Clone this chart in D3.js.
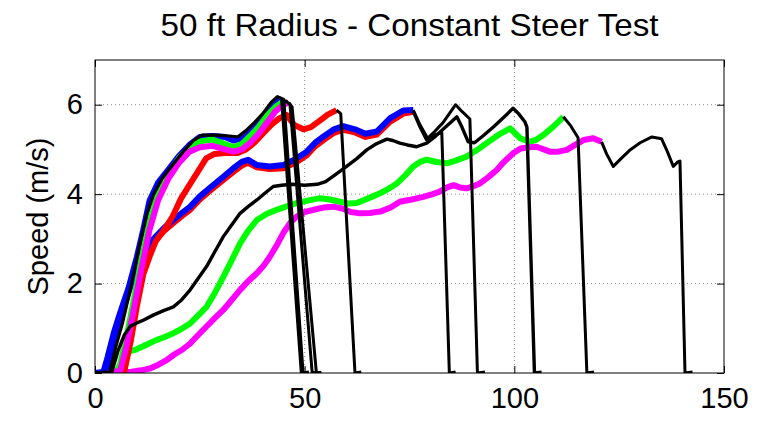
<!DOCTYPE html>
<html lang="en">
  <head>
	<meta charset="utf-8"/>
	<title>50 ft Radius - Constant Steer Test</title>
	<script src="https://cdn.jsdelivr.net/npm/d3@7"></script>
	<style>
	body{ margin:0; background:#ffffff; }
	svg{ display:block; font-family:"Liberation Sans", Arial, sans-serif; }
	.grid line{ stroke:#8c8c8c; stroke-dasharray:1,3; }
	</style>
  </head>
  <body>
	<svg id="chart"></svg>
	<script>
		// axis ticks
		const xTicks = [0, 50, 100, 150]
		const yTicks = [0, 2, 4, 6]

		// speed traces, [distance, speed]
		const blueFast = [[0,0],[2,0.02],[3,0.35],[4.5,0.9],[6,1.35],[8,1.9],[10,2.6],[11.5,3.2],[13,3.85],[15,4.25],[17.5,4.55],[20,4.85],[22.5,5.1],[25,5.28],[28,5.3],[31,5.28],[33,5.2],[35,5.25],[37,5.4],[39,5.6],[41,5.85],[43,6.08],[44.5,6.12]]
		const greenFast = [[5,0],[6,0.2],[7.5,0.8],[9,1.5],[11,2.5],[13,3.4],[15,4.0],[17.5,4.45],[20,4.8],[22.5,5.05],[25,5.18],[28,5.22],[31,5.12],[33,5.05],[35,5.12],[37,5.3],[39,5.5],[41,5.75],[43,5.95],[45.3,6.1]]
		const magentaFast = [[3,0],[6,0.05],[7.5,0.6],[9,1.3],[11,2.3],[13,3.2],[15,3.85],[17.5,4.35],[20,4.7],[22.5,4.95],[25,5.05],[28,5.08],[31,5.0],[33,4.95],[35,5.0],[37,5.15],[39,5.35],[41,5.6],[43,5.85],[45,6.0],[46.2,6.05]]
		const redFast = [[5,0],[7,0.05],[8.5,0.7],[10,1.5],[11.5,2.2],[13,2.6],[14.5,2.95],[16.5,3.2],[18.5,3.5],[20.5,3.9],[22.5,4.2],[24.5,4.5],[26.5,4.8],[28.5,4.9],[31,4.92],[34,4.92],[36,5.0],[38,5.15],[40,5.35],[42,5.55],[44,5.7],[45.7,5.77],[47.5,5.55],[49.7,5.45],[51.5,5.5],[53.7,5.65],[55.5,5.78],[57.6,5.88]]
		const redMid = [[5.5,0],[7,0.1],[8.5,0.8],[10,1.6],[11.5,2.3],[13,2.75],[14.5,2.98],[16.5,3.18],[19,3.38],[21,3.53],[22.7,3.65],[25,3.88],[27.5,4.08],[30.6,4.32],[33,4.5],[35,4.64],[36.5,4.7],[38.6,4.6],[41.7,4.56],[44.9,4.58],[48.1,4.72],[50.5,4.87],[52.5,5.07],[54.5,5.21],[57,5.37],[59.2,5.44],[62,5.38],[64.5,5.28],[67.2,5.33],[70.4,5.62],[73.5,5.8],[75.9,5.84]]
		const blueMid = [[2.5,0],[3.5,0.3],[5,0.8],[7,1.5],[9,2.1],[11,2.6],[13,2.9],[14.5,3.05],[16.5,3.25],[19,3.45],[21,3.6],[22.7,3.72],[25,3.95],[27.5,4.15],[30.6,4.39],[33,4.58],[35,4.72],[36.5,4.77],[38.6,4.65],[41.7,4.62],[44.9,4.65],[48.1,4.8],[50.5,4.95],[52.5,5.15],[54.5,5.29],[57,5.45],[59.2,5.52],[62,5.45],[64.5,5.35],[67.2,5.4],[70.4,5.7],[73.5,5.87],[75.9,5.88]]
		const greenSlow = [[0,0],[5.5,0.02],[7,0.3],[8,0.48],[9.9,0.53],[12,0.62],[14.7,0.74],[16.5,0.8],[18.7,0.89],[20.5,0.98],[22.7,1.11],[24.5,1.28],[26.6,1.48],[28.5,1.78],[30.6,2.15],[32.5,2.5],[34.6,2.9],[36.5,3.18],[38.6,3.42],[41,3.56],[43.3,3.65],[45.5,3.72],[48.1,3.8],[51,3.86],[53.7,3.91],[56,3.88],[58.4,3.83],[60.5,3.79],[62.4,3.8],[65,3.9],[68,4.02],[70,4.12],[72,4.24],[74,4.42],[75.9,4.62],[77.5,4.72],[79.1,4.77],[81.5,4.72],[83.9,4.69],[86,4.75],[88.6,4.84],[91,4.98],[93.4,5.14],[96.6,5.35],[99,5.47],[101.4,5.25],[103.7,5.17],[105.3,5.22],[106.9,5.32],[109.3,5.51],[111.7,5.73]]
		const magentaSlow = [[0,0],[6,0.02],[8.7,0.03],[11,0.06],[13.1,0.1],[15,0.18],[17.1,0.29],[19,0.42],[20.8,0.52],[22.7,0.66],[24.6,0.85],[26.6,1.04],[28.5,1.22],[30.6,1.41],[32.5,1.62],[34.6,1.86],[36.5,2.05],[38.6,2.23],[40.2,2.4],[41.7,2.6],[43.3,2.85],[44.9,3.13],[46.5,3.35],[48.1,3.5],[50,3.6],[52.1,3.65],[54.5,3.7],[56.8,3.72],[59,3.68],[61,3.6],[63.2,3.57],[65.5,3.58],[68,3.61],[70.5,3.7],[72.7,3.83],[75.5,3.88],[78.3,3.94],[80.5,4.0],[82.3,4.06],[84,4.15],[85.5,4.2],[87,4.15],[88.6,4.13],[90.3,4.18],[91.8,4.24],[93.8,4.38],[95.8,4.54],[97.5,4.72],[99.8,4.92],[101.5,5.02],[103.5,5.05],[105.3,5.06],[107,5.0],[108.5,4.95],[110.5,4.95],[112.5,4.99],[114.5,5.1],[116.5,5.21],[118.8,5.25],[120.8,5.17]]

		// black traces (the parts not covered by a colour)
		const blackFast = [[0,0],[3.5,0.02],[5,0.6],[6.5,1.1],[8.5,1.9],[10.5,2.8],[12.5,3.6],[14,4.0],[16,4.35],[18.5,4.65],[21,4.95],[23.5,5.2],[25.5,5.32],[29,5.32],[32,5.3],[34,5.28],[36,5.42],[38,5.6],[40,5.8],[42,6.05],[43.5,6.18],[45,6.12],[49.6,0],[51,0.02]]
		const blackSlow = [[0,0],[4,0.02],[5.5,0.5],[7,0.85],[8.5,1.05],[10,1.12],[11.5,1.18],[14,1.3],[16.5,1.4],[18.7,1.48],[20.5,1.62],[22.7,1.86],[24.5,2.1],[26.6,2.38],[28.5,2.7],[30.6,3.05],[32.5,3.3],[34.6,3.57],[36.5,3.72],[38.6,3.87],[40.5,4.02],[42.5,4.17],[44.5,4.2],[47,4.22],[50,4.2],[53,4.22],[55,4.28],[57.5,4.45],[60,4.62],[62.5,4.8],[64.8,4.99],[67,5.12],[69.6,5.23],[71,5.2],[72.7,5.14],[74.5,5.1],[76.7,5.06],[79.1,5.14],[81,5.28],[83,5.45],[85,5.62],[86.3,5.73],[87.5,5.5],[89,5.17],[90.5,5.15],[92.5,5.3],[95,5.5],[97.5,5.72],[99.7,5.92],[101,5.8],[102.5,5.62],[103,5.5],[104.8,0],[106.5,0.02]]
		const blueFastEnd = [[44.5,6.12],[49.2,0],[50.5,0.02]]
		const greenFastEnd = [[45.3,6.1],[46.5,6.0],[51.8,0],[53,0.02]]
		const magentaFastEnd = [[46.2,6.05],[47,5.95],[52.8,0],[54,0.02]]
		const redFastEnd = [[57.6,5.88],[58.6,5.8],[62,0],[63.5,0.02]]
		const blueMidEnd = [[75.9,5.88],[77.5,5.55],[79.3,5.25],[81,5.4],[83,5.6],[86,6.0],[87.5,5.85],[89.4,5.68],[91.2,0],[93,0.02]]
		const redMidEnd = [[75.9,5.84],[77.5,5.5],[79,5.22],[80.5,5.3],[82.7,5.38],[84.5,0],[86,0.02]]
		const greenSlowEnd = [[111.7,5.73],[113.5,5.52],[115.2,5.26],[117.3,0],[119,0.02]]
		const magentaSlowEnd = [[120.8,5.17],[122,4.9],[123.6,4.62],[125.5,4.8],[127.5,4.98],[130,5.15],[132.8,5.28],[135.1,5.24],[136.5,4.95],[137.9,4.62],[139,4.72],[139.5,4.74],[140.7,0],[142.5,0.02]]

		const width = 763
		const height = 421
		const margin = {top: 60, right: 39, bottom: 48, left: 95}

		const svg = d3.select('#chart')
		.attr('width', width)
		.attr('height', height)

		const x = d3.scaleLinear().domain([0, 150]).range([margin.left, width - margin.right])
		const y = d3.scaleLinear().domain([0, 7]).range([height - margin.bottom, margin.top])

		//grid
		const grid = svg.append('g').attr('class', 'grid')
		grid.selectAll('.gx')
		.data(xTicks.slice(1, -1))
		.enter()
		.append('line')
		.attr('x1', d => x(d)).attr('x2', d => x(d))
		.attr('y1', y(0)).attr('y2', y(7))
		grid.selectAll('.gy')
		.data(yTicks.slice(1))
		.enter()
		.append('line')
		.attr('x1', x(0)).attr('x2', x(150))
		.attr('y1', d => y(d)).attr('y2', d => y(d))

		svg.append('clipPath').attr('id', 'plot')
		.append('rect')
		.attr('x', x(0)).attr('y', y(7))
		.attr('width', x(150) - x(0)).attr('height', y(0) - y(7))

		const line = d3.line().x(d => x(d[0])).y(d => y(d[1]))

		const traces = [
			{data: greenSlow, color: '#00ff00', w: 6},
			{data: magentaSlow, color: '#ff00ff', w: 6},
			{data: redMid, color: '#ff0000', w: 6},
			{data: blueMid, color: '#0000ff', w: 6},
			{data: redFast, color: '#ff0000', w: 6},
			{data: blueFast, color: '#0000ff', w: 6},
			{data: greenFast, color: '#00ff00', w: 6},
			{data: magentaFast, color: '#ff00ff', w: 6},
			{data: blackSlow, color: '#000000', w: 3.4},
			{data: blackFast, color: '#000000', w: 3.2},
			{data: blueFastEnd, color: '#000000', w: 3},
			{data: greenFastEnd, color: '#000000', w: 3},
			{data: magentaFastEnd, color: '#000000', w: 3},
			{data: redFastEnd, color: '#000000', w: 3},
			{data: blueMidEnd, color: '#000000', w: 3},
			{data: redMidEnd, color: '#000000', w: 3},
			{data: greenSlowEnd, color: '#000000', w: 3},
			{data: magentaSlowEnd, color: '#000000', w: 3}
		]

		svg.append('g')
		.attr('clip-path', 'url(#plot)')
		.selectAll('path')
		.data(traces)
		.enter()
		.append('path')
		.attr('d', d => line(d.data))
		.attr('fill', 'none')
		.attr('stroke', d => d.color)
		.attr('stroke-width', d => d.w)
		.attr('stroke-linejoin', 'round')

		//axes, matlab style with ticks inside on all four sides
		const tickLen = 7
		const styleAxis = g => {
			g.select('.domain').remove()
			g.selectAll('.tick line').attr('stroke', '#000')
			g.selectAll('.tick text').attr('fill', '#000').attr('font-size', 29)
		}
		svg.append('g')
		.attr('transform', `translate(0,${y(0)})`)
		.call(d3.axisBottom(x).tickValues(xTicks).tickFormat(d3.format('d')).tickSizeInner(-tickLen).tickPadding(14))
		.call(styleAxis)
		svg.append('g')
		.attr('transform', `translate(${x(0)},0)`)
		.call(d3.axisLeft(y).tickValues(yTicks).tickFormat(d3.format('d')).tickSizeInner(-tickLen).tickPadding(12))
		.call(styleAxis)
		svg.append('g')
		.attr('transform', `translate(0,${y(7)})`)
		.call(d3.axisTop(x).tickValues(xTicks).tickSizeInner(-tickLen).tickFormat(''))
		.call(styleAxis)
		svg.append('g')
		.attr('transform', `translate(${x(150)},0)`)
		.call(d3.axisRight(y).tickValues(yTicks).tickSizeInner(-tickLen).tickFormat(''))
		.call(styleAxis)

		svg.append('rect')
		.attr('x', x(0)).attr('y', y(7))
		.attr('width', x(150) - x(0)).attr('height', y(0) - y(7))
		.attr('fill', 'none')
		.attr('stroke', '#000')
		.attr('stroke-width', 1)

		//labels
		svg.append('text')
		.attr('x', (x(0) + x(150)) / 2)
		.attr('y', 36)
		.attr('text-anchor', 'middle')
		.attr('font-size', 32)
		.attr('textLength', 498)
		.attr('lengthAdjust', 'spacingAndGlyphs')
		.text('50 ft Radius - Constant Steer Test')

		svg.append('text')
		.attr('transform', `translate(48,${(y(0) + y(7)) / 2}) rotate(-90)`)
		.attr('text-anchor', 'middle')
		.attr('font-size', 29)
		.text('Speed (m/s)')
	</script>
  </body>
</html>
